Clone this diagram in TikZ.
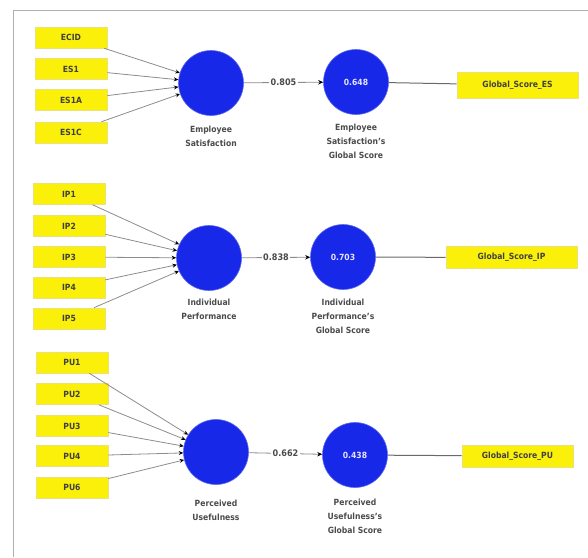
\documentclass[tikz,border=0pt]{standalone}
\usepackage{fontspec}
\setmainfont{DejaVu Sans Condensed}
\usetikzlibrary{arrows.meta}
\definecolor{lvblue}{RGB}{24,40,232}
\definecolor{mvyellow}{RGB}{250,240,10}
\definecolor{mvedge}{RGB}{235,225,120}
\definecolor{linec}{RGB}{140,140,140}
\definecolor{darkline}{RGB}{105,105,105}
\definecolor{framec}{RGB}{175,175,175}
\definecolor{txtc}{RGB}{75,75,75}
\tikzset{
  mv/.style={rectangle, fill=mvyellow, draw=mvedge, line width=0.6pt, minimum width=72pt, minimum height=21pt, inner sep=0pt, font=\fontsize{8.5}{9}\selectfont\bfseries, text=black!75},
  gmv/.style={mv, minimum height=23pt, inner xsep=4pt},
  lv/.style={circle, fill=lvblue, draw=lvblue!70, line width=0.6pt, minimum size=65pt, inner sep=0pt, font=\fontsize{8.5}{9}\selectfont\bfseries, text=white!90!blue},
  lbl/.style={align=center, anchor=north, font=\fontsize{8.5}{14}\selectfont\bfseries, text=txtc},
  ind/.style={draw=linec, line width=0.8pt, -{Stealth[length=4.5pt,width=4pt,black]}},
  pth/.style={draw=linec, line width=0.8pt, -{Stealth[length=5pt,width=4.5pt,black]}},
  plain/.style={draw=darkline, line width=1pt},
  coef/.style={fill=white, inner sep=1.5pt, font=\fontsize{9}{10}\selectfont\bfseries, text=txtc}
}
\begin{document}
\begin{tikzpicture}[x=1pt,y=-1pt]
\useasboundingbox (0,0) rectangle (588,557);
\draw[framec, line width=1.2pt] (13.5,557) -- (13.5,10.5) -- (588,10.5);

% ---------- Section 1 ----------
\node[lv] (es) at (211,83) {};
\node[lv] (esg) at (356,82) {0.648};
\node[mv] (ecid) at (71,37.5) {ECID};
\node[mv] (es1) at (71,69) {ES1};
\node[mv] (es1a) at (71,100) {ES1A};
\node[mv] (es1c) at (71,132.5) {ES1C};
\node[gmv, minimum width=121pt, minimum height=26pt] (gses) at (517.5,85) {Global\_Score\_ES};
\node[lbl] (esl) at (211,123) {Employee\\Satisfaction};
\node[lbl] (esgl) at (356,121) {Employee\\Satisfaction's\\Global Score};
\foreach \n in {ecid,es1,es1a,es1c} \draw[ind] (\n) -- (es);
\draw[pth] (es) -- node[coef] {0.805} (esg);
\draw[plain] (esg) -- (gses);

% ---------- Section 2 ----------
\node[lv] (ip) at (209,258) {};
\node[lv] (ipg) at (343,257) {0.703};
\node[mv] (ip1) at (69,194) {IP1};
\node[mv] (ip2) at (69,226) {IP2};
\node[mv] (ip3) at (69,257) {IP3};
\node[mv] (ip4) at (69,287.5) {IP4};
\node[mv] (ip5) at (69,318.5) {IP5};
\node[gmv, minimum width=131pt, minimum height=22pt] (gsip) at (511.5,257.5) {Global\_Score\_IP};
\node[lbl] (ipl) at (209,296) {Individual\\Performance};
\node[lbl] (ipgl) at (343,296) {Individual\\Performance's\\Global Score};
\foreach \n in {ip1,ip2,ip3,ip4,ip5} \draw[ind] (\n) -- (ip);
\draw[pth] (ip) -- node[coef] {0.838} (ipg);
\draw[plain] (ipg) -- (gsip);

% ---------- Section 3 ----------
\node[lv] (pu) at (216,452) {};
\node[lv] (pug) at (355,455) {0.438};
\node[mv] (pu1) at (72,362.5) {PU1};
\node[mv] (pu2) at (72,394) {PU2};
\node[mv] (pu3) at (72,426) {PU3};
\node[mv] (pu4) at (72,456) {PU4};
\node[mv] (pu6) at (72,487.5) {PU6};
\node[gmv, minimum width=111pt, minimum height=22pt] (gspu) at (517.5,456) {Global\_Score\_PU};
\node[lbl] (pul) at (216,496) {Perceived\\Usefulness};
\node[lbl] (pugl) at (355,495) {Perceived\\Usefulness's\\Global Score};
\foreach \n in {pu1,pu2,pu3,pu4,pu6} \draw[ind] (\n) -- (pu);
\draw[pth] (pu) -- node[coef] {0.662} (pug);
\draw[plain] (pug) -- (gspu);
\end{tikzpicture}
\end{document}
